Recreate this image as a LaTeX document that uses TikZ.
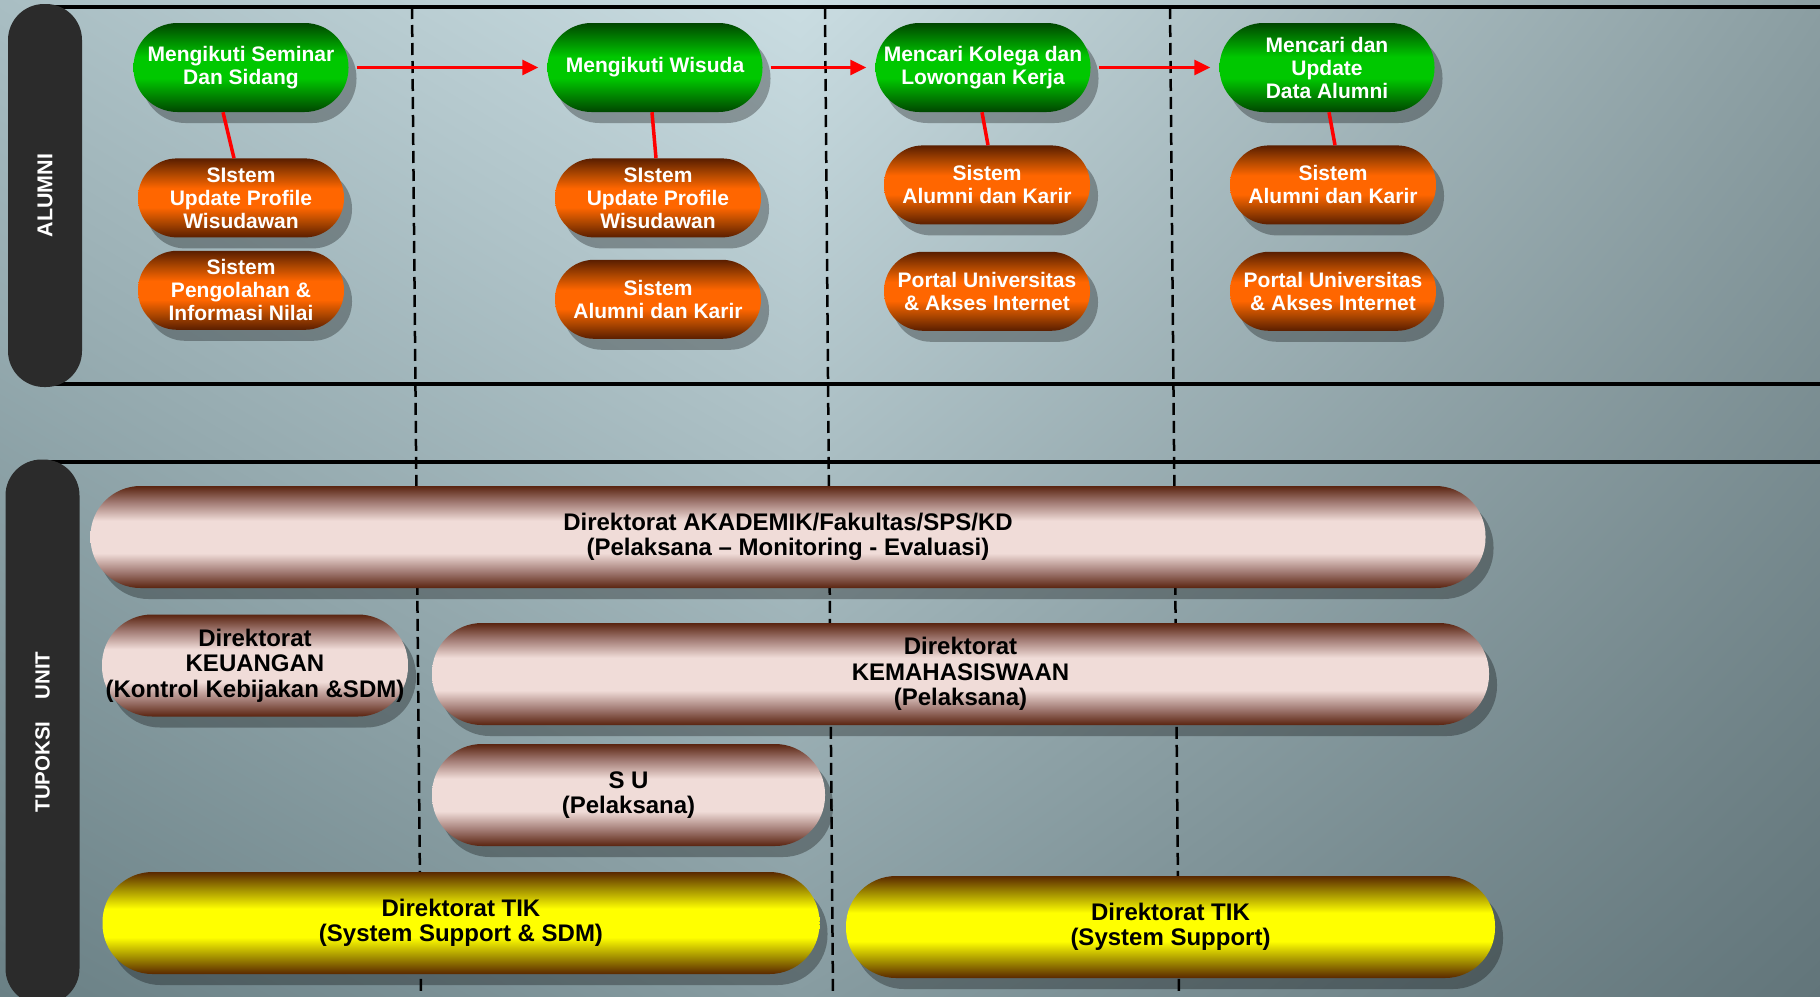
\documentclass[tikz,border=0pt]{standalone}
\usepackage{fontspec}
\setmainfont{Liberation Sans}
\usepackage{tikz}
\usetikzlibrary{arrows.meta}
\usetikzlibrary{positioning}
\usetikzlibrary{shadows,shadings}
\usetikzlibrary{calc}

\definecolor{latA}{HTML}{A9BEC3}
\definecolor{latB}{HTML}{CADDE2}
\definecolor{latC}{HTML}{6A8085}
\definecolor{latD}{HTML}{879CA1}
\definecolor{latE}{HTML}{8B9EA2}
\definecolor{latF}{HTML}{62757A}
\definecolor{lajurgelap}{HTML}{2B2B2B}
\definecolor{hijauTua}{HTML}{004600}
\definecolor{hijauSedang}{HTML}{008A00}
\definecolor{hijauTerang}{HTML}{00C800}
\definecolor{jinggaTua}{HTML}{5A1E00}
\definecolor{jinggaSedang}{HTML}{B04800}
\definecolor{jinggaTerang}{HTML}{FF6600}
\definecolor{merahTua}{HTML}{5A2410}
\definecolor{merahSedang}{HTML}{A27B74}
\definecolor{merahTerang}{HTML}{F0DCD8}
\definecolor{kuningTua}{HTML}{5A2800}
\definecolor{kuningSedang}{HTML}{A89600}
\definecolor{kuningTerang}{HTML}{FFFF00}

\pgfdeclareverticalshading{pipahijau}{100bp}{color(0bp)=(hijauTua); color(25bp)=(hijauTua); color(35bp)=(hijauSedang); color(44bp)=(hijauTerang); color(56bp)=(hijauTerang); color(65bp)=(hijauSedang); color(75bp)=(hijauTua); color(100bp)=(hijauTua)}
\pgfdeclareverticalshading{pipajingga}{100bp}{color(0bp)=(jinggaTua); color(25bp)=(jinggaTua); color(35bp)=(jinggaSedang); color(44bp)=(jinggaTerang); color(56bp)=(jinggaTerang); color(65bp)=(jinggaSedang); color(75bp)=(jinggaTua); color(100bp)=(jinggaTua)}
\pgfdeclareverticalshading{pipamerah}{100bp}{color(0bp)=(merahTua); color(25bp)=(merahTua); color(33bp)=(merahSedang); color(42bp)=(merahTerang); color(58bp)=(merahTerang); color(67bp)=(merahSedang); color(75bp)=(merahTua); color(100bp)=(merahTua)}
\pgfdeclareverticalshading{pipakuning}{100bp}{color(0bp)=(kuningTua); color(25bp)=(kuningTua); color(34bp)=(kuningSedang); color(43bp)=(kuningTerang); color(57bp)=(kuningTerang); color(66bp)=(kuningSedang); color(75bp)=(kuningTua); color(100bp)=(kuningTua)}

\tikzstyle{bayang}=[drop shadow={shadow xshift=8pt,shadow yshift=-11pt,fill=black,opacity=.3}]
\tikzstyle{tahap}=[bayang,shade,shading=pipahijau,rounded corners=44pt,minimum width=215pt,minimum height=89pt,inner sep=0pt,align=center,text=white,font=\fontsize{21}{23}\selectfont\bfseries]
\tikzstyle{sistem}=[bayang,shade,shading=pipajingga,rounded corners=39pt,minimum width=206pt,minimum height=79pt,inner sep=0pt,align=center,text=white,font=\fontsize{21}{23}\selectfont\bfseries]
\tikzstyle{pita}=[bayang,rounded corners=50pt,minimum height=102pt,inner sep=0pt,align=center,font=\fontsize{24}{25.5}\selectfont\bfseries]
\tikzstyle{unit}=[pita,shade,shading=pipamerah]
\tikzstyle{tik}=[pita,shade,shading=pipakuning]
\tikzstyle{lajur}=[rotate=90,fill=lajurgelap,rounded corners=36pt,minimum height=74pt,text=white,font=\fontsize{20.5}{22}\selectfont\bfseries]
\tikzstyle{garis}=[line width=4pt]
\tikzstyle{batas}=[line width=2.5pt,dash pattern=on 12pt off 6pt]
\tikzstyle{alur}=[line width=3pt,red,-{Triangle[length=16pt,width=15pt]},shorten <=8pt,shorten >=9pt]
\tikzstyle{kait}=[line width=3.5pt,red]

\begin{document}
\begin{tikzpicture}[x=1pt,y=-1pt]
\useasboundingbox (0,0) rectangle (1820,996);
\clip (0,0) rectangle (1820,996);
% latar
\shade[upper left=latA,upper right=latB,lower left=latC,lower right=latD] (0,0) rectangle (800,996);
\shade[upper left=latB,upper right=latE,lower left=latD,lower right=latF] (800,0) rectangle (1820,996);

\draw[garis] (45,7) -- (1820,7);
\draw[garis] (45,384) -- (1820,384);
\draw[garis] (45,462) -- (1820,462);
\foreach \xa/\xb in {412/421,825/833,1170/1179}
  \draw[batas] (\xa,7) -- (\xb,996);

\node[lajur,minimum width=383pt,font=\fontsize{21.5}{22}\selectfont\bfseries] (alumni) at (45,195.5) {ALUMNI};
\node[lajur,minimum width=545pt] (tupoksi) at (42.5,732) {TUPOKSI\hspace{22pt}UNIT};

% lajur alumni
\node[tahap] (seminar) at (241,67.5) {Mengikuti Seminar\\Dan Sidang};
\node[tahap] (wisuda) at (655,67.5) {Mengikuti Wisuda};
\node[tahap] (kolega) at (983,67.5) {Mencari Kolega dan\\Lowongan Kerja};
\node[tahap] (dataalumni) at (1327,67.5) {Mencari dan\\Update\\Data Alumni};

\node[sistem,below=46pt of seminar] (profil1) {SIstem\\Update Profile\\Wisudawan};
\node[sistem,below=13pt of profil1] (nilai) {Sistem\\Pengolahan \&\\Informasi Nilai};
\node[sistem,below=46pt of wisuda,xshift=3pt] (profil2) {SIstem\\Update Profile\\Wisudawan};
\node[sistem,below=22pt of profil2] (karir2) {Sistem\\Alumni dan Karir};
\node[sistem,below=33pt of kolega,xshift=4pt] (karir3) {Sistem\\Alumni dan Karir};
\node[sistem,below=27pt of karir3] (portal3) {Portal Universitas\\\& Akses Internet};
\node[sistem,below=33pt of dataalumni,xshift=6pt] (karir4) {Sistem\\Alumni dan Karir};
\node[sistem,below=27pt of karir4] (portal4) {Portal Universitas\\\& Akses Internet};

\draw[alur] (seminar) -- (wisuda);
\draw[alur] (wisuda) -- (kolega);
\draw[alur] (kolega) -- (dataalumni);

\draw[kait] ([xshift=-18pt]seminar.south) -- ([xshift=-7pt]profil1.north);
\draw[kait] ([xshift=-3pt]wisuda.south) -- ([xshift=-2pt]profil2.north);
\draw[kait] ([xshift=-1pt]kolega.south) -- ([xshift=1pt]karir3.north);
\draw[kait] ([xshift=2pt]dataalumni.south) -- ([xshift=2pt]karir4.north);

% lajur tupoksi
\node[unit,minimum width=1395pt] (akademik) at (788,537) {Direktorat AKADEMIK/Fakultas/SPS/KD\\(Pelaksana – Monitoring - Evaluasi)};
\node[unit,minimum width=306pt] (keuangan) at (255,665.5) {Direktorat\\KEUANGAN\\(Kontrol Kebijakan \&SDM)};
\node[unit,minimum width=1057pt] (kemahasiswaan) at (960.5,674) {Direktorat\\KEMAHASISWAAN\\(Pelaksana)};
\node[unit,minimum width=393pt] (su) at (628.5,795) {S U\\(Pelaksana)};
\node[tik,minimum width=717pt] (tiksdm) at (461,923) {Direktorat TIK\\(System Support \& SDM)};
\node[tik,minimum width=649pt] (tik) at (1170.5,927) {Direktorat TIK\\(System Support)};
\end{tikzpicture}
\end{document}
